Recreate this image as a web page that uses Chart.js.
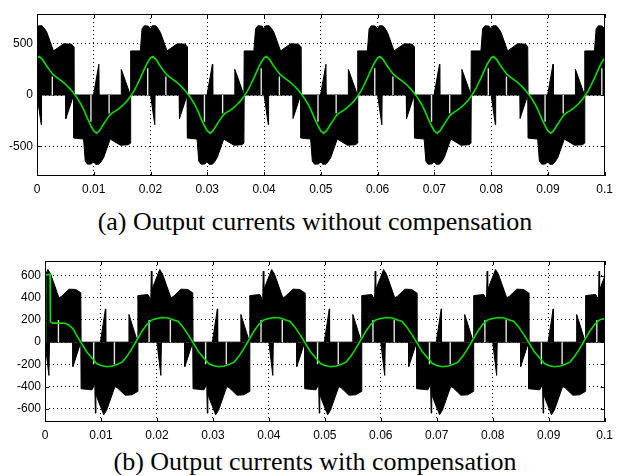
<!DOCTYPE html>
<html lang="en">
<head>
<meta charset="UTF-8">
<title>Output currents</title>
<script src="https://cdn.jsdelivr.net/npm/chart.js@4.4.0/dist/chart.umd.min.js"></script>
<style>
  body { margin: 0; background: #fff; width: 619px; height: 476px; position: relative; overflow: hidden; }
  canvas { position: absolute; left: 0; }
  #chartA { top: 0; }
  #chartB { top: 240px; }
  .caption { position: absolute; left: 0; width: 630px; text-align: center;
             font-family: 'Liberation Serif', 'Times New Roman', serif; font-size: 26px;
             line-height: 30px; color: #000; white-space: nowrap; }
</style>
</head>
<body>
<canvas id="chartA" width="619" height="200"></canvas>
<div class="caption" style="top:207px">(a) Output currents without compensation</div>
<canvas id="chartB" width="619" height="200"></canvas>
<div class="caption" style="top:447px">(b) Output currents with compensation</div>
<script>
// one 50 Hz cycle is 20 ms; the traces repeat every cycle
const cycleStarts = [0, 20, 40, 60, 80];   // ms
const xTicks = [0, 0.01, 0.02, 0.03, 0.04, 0.05, 0.06, 0.07, 0.08, 0.09, 0.1];
const xTickLabels = ['0', '0.01', '0.02', '0.03', '0.04', '0.05', '0.06', '0.07', '0.08', '0.09', '0.1'];

// (a) without compensation  -- times in ms inside a cycle
const aYTicks = [-500, 0, 500];
const aYTickLabels = ['-500', '0', '500'];
const aUpperT = [0, 0.3, 0.9, 1.3, 1.75, 2.9, 4.7, 6.1, 6.45, 6.5, 9.95, 10.9, 10.95, 14.8, 14.85, 16.45, 16.5, 18.2, 18.5, 18.9, 19.6, 20];
const aUpperV = [645, 675, 675, 650, 610, 430, 500, 495, 470, 0, 0, 300, 0, 0, 250, 0, 430, 430, 645, 675, 672, 645];
const aLowerT = [0, 0.75, 0.8, 5.05, 5.1, 6.45, 6.5, 8.2, 8.5, 8.9, 9.6, 10.0, 10.3, 10.9, 11.3, 11.75, 12.9, 14.7, 16.1, 16.45, 16.5, 20];
const aLowerV = [0, -290, 0, 0, -230, 0, -420, -430, -645, -675, -672, -645, -675, -675, -650, -610, -430, -490, -485, -470, 0, 0];
const aRefT = [0, 0.4, 1.0, 1.6, 2.2, 2.8, 3.4, 4.0, 4.6, 5.3, 5.9, 6.5, 7.1, 7.7, 8.3, 8.9, 9.5, 10.0, 10.5, 11.0, 11.6, 12.2, 12.8, 13.4, 14.0, 14.6, 15.3, 15.9, 16.5, 17.1, 17.6, 18.2, 18.8, 19.4, 20];
const aRefV = [362, 375, 345, 290, 245, 200, 175, 150, 125, 90, 55, 15, -30, -85, -150, -230, -300, -350, -372, -350, -295, -245, -195, -170, -150, -125, -90, -55, -10, 40, 95, 165, 240, 310, 362];
const aRefStartT = [0];
const aRefStartV = [0];
const aGapT = [2.7, 9.5, 12.7, 19.5];
const aGapV = [180, -260, -180, 260];

// (b) with compensation
const bYTicks = [-600, -400, -200, 0, 200, 400, 600];
const bYTickLabels = ['-600', '-400', '-200', '0', '200', '400', '600'];
const bUpperT = [0, 0.5, 1.0, 2.5, 3.0, 4.3, 5.5, 6.4, 6.45, 9.9, 10.8, 10.85, 14.9, 15.0, 16.55, 16.6, 18.4, 18.9, 19.0, 19.1, 19.6, 20];
const bUpperV = [590, 655, 615, 400, 415, 478, 475, 445, 0, 0, 300, 0, 0, 250, 0, 420, 430, 380, 640, 470, 540, 590];
const bLowerT = [0, 0.7, 0.8, 4.95, 5.0, 6.4, 6.45, 8.4, 8.9, 9.0, 9.1, 9.6, 10.5, 11.0, 12.5, 13.0, 14.3, 15.5, 16.55, 16.6, 20];
const bLowerV = [0, -300, 0, 0, -220, 0, -420, -430, -380, -640, -470, -540, -655, -615, -400, -415, -478, -475, -445, 0, 0];
const bRefT = [0, 1.0, 2.0, 3.0, 3.8, 4.6, 5.6, 6.4, 7.4, 8.5, 9.2, 10.0, 11.0, 12.0, 13.0, 13.8, 14.6, 15.4, 16.2, 17.3, 18.2, 19.1, 20];
const bRefV = [214, 222, 218, 200, 186, 140, 66, 0, -84, -150, -190, -210, -222, -215, -200, -180, -130, -70, 0, 96, 160, 201, 214];
const bRefStartT = [0, 0.1, 0.9, 0.92, 1.0, 1.4, 3.5, 4.2, 5.0];
const bRefStartV = [0, 605, 612, 360, 185, 172, 170, 158, 120];
const bGapT = [2.4, 8.7, 12.4, 18.6];
const bGapV = [200, -200, -200, 200];

function tile(ts, vs, after) {
  const pts = [];
  cycleStarts.forEach(c => ts.forEach((t, i) => {
    const ms = c + t;
    if (after === undefined || ms > after) pts.push({ x: ms / 1000, y: vs[i] });
  }));
  return pts;
}
function single(ts, vs) {
  return ts.map((t, i) => ({ x: t / 1000, y: vs[i] }));
}
function gapLines(ts, vs) {
  const pts = [];
  cycleStarts.forEach(c => ts.forEach((t, i) => {
    const x = (c + t) / 1000;
    pts.push({ x, y: 0 }, { x, y: vs[i] }, { x, y: null });
  }));
  return pts;
}

const tickFont = { family: "'Liberation Sans', Arial, sans-serif", size: 12 };

const framePlugin = {
  id: 'frame',
  afterDraw(chart) {
    const { ctx, chartArea: a, scales } = chart;
    ctx.save();
    ctx.strokeStyle = '#000';
    ctx.lineWidth = 1;
    ctx.strokeRect(Math.round(a.left) + 0.5, Math.round(a.top) + 0.5,
                   Math.round(a.right - a.left) - 1, Math.round(a.bottom - a.top) - 1);
    ctx.beginPath();
    scales.x.ticks.forEach(t => {
      const px = Math.round(scales.x.getPixelForValue(t.value)) + 0.5;
      ctx.moveTo(px, a.bottom); ctx.lineTo(px, a.bottom - 4);
      ctx.moveTo(px, a.top); ctx.lineTo(px, a.top + 4);
    });
    scales.y.ticks.forEach(t => {
      const py = Math.round(scales.y.getPixelForValue(t.value)) + 0.5;
      ctx.moveTo(a.left, py); ctx.lineTo(a.left + 4, py);
      ctx.moveTo(a.right, py); ctx.lineTo(a.right - 4, py);
    });
    ctx.stroke();
    ctx.restore();
  }
};

function makeChart(id, cfg) {
  const fillSet = data => ({
    data, fill: 'origin', backgroundColor: '#000', borderColor: '#000',
    borderWidth: 1, pointRadius: 0, tension: 0
  });
  new Chart(document.getElementById(id), {
    type: 'line',
    data: {
      datasets: [
        { data: cfg.ref, borderColor: 'rgb(0,225,0)', borderWidth: 1.6, pointRadius: 0, tension: 0, fill: false },
        { data: cfg.gaps, borderColor: '#e4e4e4', borderWidth: 1.4, pointRadius: 0, tension: 0, fill: false, spanGaps: false },
        fillSet(cfg.upper),
        fillSet(cfg.lower)
      ]
    },
    options: {
      responsive: false,
      animation: false,
      devicePixelRatio: 1,
      layout: { padding: cfg.padding },
      plugins: { legend: { display: false }, tooltip: { enabled: false } },
      scales: {
        x: {
          type: 'linear', min: 0, max: 0.1,
          afterBuildTicks: s => { s.ticks = xTicks.map(v => ({ value: v })); },
          afterFit: s => { s.height = cfg.xHeight; },
          ticks: { callback: (v, i) => xTickLabels[i], font: tickFont, color: '#000',
                   padding: 6, maxRotation: 0, autoSkip: false },
          grid: { color: '#000', lineWidth: 1, drawTicks: false },
          border: { display: false, dash: [1, 3] }
        },
        y: {
          type: 'linear', min: cfg.yMin, max: cfg.yMax,
          afterBuildTicks: s => { s.ticks = cfg.yTicks.map(v => ({ value: v })); },
          afterFit: s => { s.width = cfg.yWidth; },
          ticks: { callback: (v, i) => cfg.yLabels[i], font: tickFont, color: '#000',
                   padding: 4, autoSkip: false },
          grid: { color: '#000', lineWidth: 1, drawTicks: false },
          border: { display: false, dash: [1, 3] }
        }
      }
    },
    plugins: [framePlugin]
  });
}

makeChart('chartA', {
  ref: single(aRefStartT, aRefStartV).concat(tile(aRefT, aRefV)),
  gaps: gapLines(aGapT, aGapV),
  upper: tile(aUpperT, aUpperV),
  lower: tile(aLowerT, aLowerV),
  yMin: -790, yMax: 790, yTicks: aYTicks, yLabels: aYTickLabels,
  padding: { left: 0, right: 12, top: 14, bottom: 0 },
  yWidth: 37, xHeight: 24
});

makeChart('chartB', {
  ref: single(bRefStartT, bRefStartV).concat(tile(bRefT, bRefV, 5.3)),
  gaps: gapLines(bGapT, bGapV),
  upper: tile(bUpperT, bUpperV),
  lower: tile(bLowerT, bLowerV),
  yMin: -720, yMax: 732, yTicks: bYTicks, yLabels: bYTickLabels,
  padding: { left: 0, right: 6, top: 21, bottom: 0 },
  yWidth: 45, xHeight: 18
});
</script>
</body>
</html>
